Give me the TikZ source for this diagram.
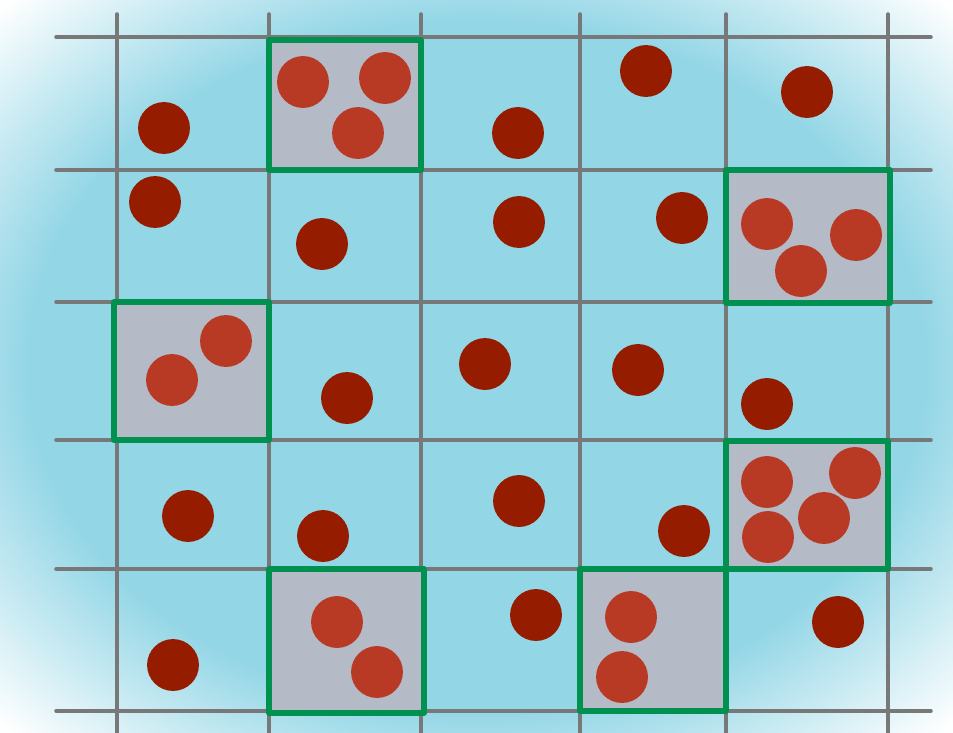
\documentclass[tikz,border=0pt]{standalone}
\usepackage{tikz}
\usetikzlibrary{shapes.geometric}
\definecolor{cellgray}{RGB}{180,186,198}
\definecolor{boxgreen}{RGB}{0,145,80}
\definecolor{darkdot}{RGB}{150,28,0}
\definecolor{lightdot}{RGB}{184,58,37}
\pgfdeclareradialshading{bgfade}{\pgfpoint{0bp}{0bp}}{%
  rgb(0bp)=(0.576,0.839,0.902);
  rgb(23.5bp)=(0.576,0.839,0.902);
  rgb(35bp)=(1,1,1);
  rgb(50bp)=(1,1,1)}
\tikzset{x=.025cm,y=-.025cm,
  gridline/.style={draw=black!53,line width=2.5pt,line cap=round},
  hotcell/.style={fill=cellgray,draw=boxgreen,line width=4pt,line join=round},
  dot/.style={circle,inner sep=0pt,minimum size=36.9pt,fill=darkdot},
  ldot/.style={dot,fill=lightdot}}

\begin{document}
\begin{tikzpicture}
    \useasboundingbox (0,0) rectangle (953,732);
    % background
    \shade[shading=bgfade] (0,0) rectangle (953,732);
    % cells holding more than one particle
    \foreach \xa/\ya/\xb/\yb in {269/40/421/170, 726/170/890/303, 114/302/269/440,
                                 726/441/888/569, 269/569/424/713, 580/569/726/711}
      \fill[cellgray] (\xa,\ya) rectangle (\xb,\yb);
    % grid
    \foreach \gx in {117,269,421,580,726,888}
      \draw[gridline] (\gx,14) -- (\gx,740);
    \foreach \gy in {37,170,302,440,569,711}
      \draw[gridline] (56,\gy) -- (931,\gy);
    \foreach \xa/\ya/\xb/\yb in {269/40/421/170, 726/170/890/303, 114/302/269/440,
                                 726/441/888/569, 269/569/424/713, 580/569/726/711}
      \draw[hotcell] (\xa,\ya) rectangle (\xb,\yb);
    % single particles
    \foreach \px/\py [count=\i] in {164/128, 155/202, 518/133, 646/71, 807/92,
        322/244, 519/222, 682/218, 347/398, 485/364, 638/370, 767/404,
        188/516, 323/536, 519/501, 684/531, 173/665, 536/615, 838/622}
      \node[dot] (single\i) at (\px,\py) {};
    % clustered particles
    \foreach \px/\py [count=\i] in {303/82, 385/78, 358/133,
        767/224, 856/235, 801/271,
        226/341, 172/380,
        767/482, 855/473, 824/518, 768/537,
        337/622, 377/672,
        631/617, 622/677}
      \node[ldot] (multi\i) at (\px,\py) {};
\end{tikzpicture}
\end{document}
